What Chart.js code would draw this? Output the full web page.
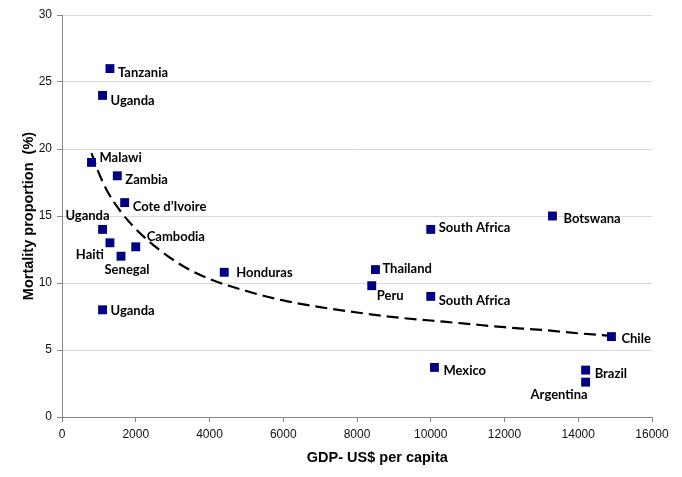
<!DOCTYPE html>
<html>
<head>
<meta charset="utf-8">
<script src="https://cdn.jsdelivr.net/npm/chart.js@4"></script>
<style>
  html, body { margin: 0; padding: 0; background: #fff; }
  #wrap { width: 682px; height: 477px; }
</style>
</head>
<body>
<div id="wrap"><canvas id="gdpChart" width="682" height="477"></canvas></div>
<script>
// countries, GDP per capita (US$) and mortality proportion (%)
const countries = ['Tanzania', 'Uganda', 'Malawi', 'Zambia', "Cote d\u2019Ivoire", 'Uganda', 'Haiti',
  'Cambodia', 'Senegal', 'Honduras', 'Uganda', 'Thailand', 'Peru', 'South Africa', 'South Africa',
  'Botswana', 'Chile', 'Mexico', 'Brazil', 'Argentina'];
const gdp = [1300, 1100, 800, 1500, 1700, 1100, 1300, 2000, 1600, 4400, 1100, 8500, 8400, 10000, 10000,
  13300, 14900, 10100, 14200, 14200];
const mortality = [26, 24, 19, 18, 16, 14, 13, 12.7, 12, 10.8, 8, 11, 9.8, 14, 9, 15, 6, 3.7, 3.5, 2.6];

// dashed trend curve
const trendX = [800, 1000, 1200, 1600, 2200, 3200, 4000, 5000, 6000, 7000, 8000, 9000, 10000, 11000,
  12000, 13000, 14000, 14900];
const trendY = [19.7, 18.2, 17.0, 15.3, 13.5, 11.4, 10.3, 9.4, 8.7, 8.2, 7.8, 7.45, 7.2, 6.95, 6.7,
  6.5, 6.25, 6.05];

const xTicks = [0, 2000, 4000, 6000, 8000, 10000, 12000, 14000, 16000];
const yTicks = [0, 5, 10, 15, 20, 25, 30];

// label placement per point: dx, dy (px) and text alignment
const labelPos = [
  [8, 4, 'left'], [8, 5, 'left'], [8, -5, 'left'], [8, 4, 'left'], [8, 4, 'left'],
  [7, -14, 'right'], [-6, 12, 'right'], [11, -10, 'left'], [6, 14, 'center'], [12, 1, 'left'],
  [8, 1, 'left'], [7, -1, 'left'], [5, 10, 'left'], [8, -2, 'left'], [8, 4, 'left'],
  [11, 3, 'left'], [10, 2, 'left'], [9, 3, 'left'], [9, 4, 'left'], [2, 13, 'right']
];

const pointLabels = {
  id: 'pointLabels',
  afterDatasetsDraw(chart) {
    const { ctx, scales: { x, y } } = chart;
    ctx.save();
    ctx.font = 'bold 13px Lato, "Open Sans", sans-serif';
    ctx.fillStyle = '#000';
    ctx.textBaseline = 'middle';
    countries.forEach((name, i) => {
      const [dx, dy, align] = labelPos[i];
      ctx.textAlign = align;
      ctx.fillText(name, x.getPixelForValue(gdp[i]) + dx, y.getPixelForValue(mortality[i]) + dy);
    });
    // x axis title, sits a bit right of centre in the original
    ctx.font = 'bold 14.5px "Liberation Sans", Arial, sans-serif';
    ctx.textAlign = 'center';
    ctx.fillText('GDP- US$ per capita', x.getPixelForValue(8550), 458);
    ctx.restore();
  }
};

const tickFont = { family: '"Liberation Sans", Arial, sans-serif', size: 12 };

new Chart(document.getElementById('gdpChart').getContext('2d'), {
  type: 'scatter',
  data: {
    datasets: [
      {
        label: 'countries',
        data: gdp.map((g, i) => ({ x: g, y: mortality[i] })),
        pointStyle: 'rect',
        pointRadius: 6.3,
        pointHoverRadius: 6.3,
        backgroundColor: '#000080',
        borderColor: '#000080',
        borderWidth: 0,
        order: 1
      },
      {
        label: 'trend',
        data: trendX.map((t, i) => ({ x: t, y: trendY[i] })),
        showLine: true,
        borderColor: '#000',
        borderWidth: 2.2,
        borderDash: [12, 6],
        pointRadius: 0,
        cubicInterpolationMode: 'monotone',
        fill: false,
        order: 2
      }
    ]
  },
  plugins: [pointLabels],
  options: {
    responsive: false,
    animation: false,
    layout: { padding: { top: 15, right: 30, left: 0, bottom: 0 } },
    plugins: { legend: { display: false }, tooltip: { enabled: false } },
    scales: {
      x: {
        type: 'linear',
        min: 0, max: 16000,
        afterBuildTicks: s => { s.ticks = xTicks.map(v => ({ value: v })); },
        afterFit: s => { s.height = 60; },
        grid: { drawOnChartArea: false, drawTicks: true, tickLength: 5, color: '#868686' },
        border: { color: '#868686', width: 1 },
        ticks: { font: tickFont, color: '#111', padding: 5, maxRotation: 0, callback: v => String(v) }
      },
      y: {
        type: 'linear',
        min: 0, max: 30,
        afterBuildTicks: s => { s.ticks = yTicks.map(v => ({ value: v })); },
        afterFit: s => { s.width = 62; },
        grid: { color: '#d9d9d9', tickLength: 5, tickColor: '#868686' },
        border: { color: '#868686', width: 1 },
        ticks: { font: tickFont, color: '#111', padding: 5, callback: v => String(v) },
        title: {
          display: true,
          text: 'Mortality proportion  (%)',
          font: { family: '"Liberation Sans", Arial, sans-serif', size: 14.5, weight: 'bold' },
          color: '#000',
          padding: { top: 20, bottom: 0 }
        }
      }
    }
  }
});
</script>
</body>
</html>
